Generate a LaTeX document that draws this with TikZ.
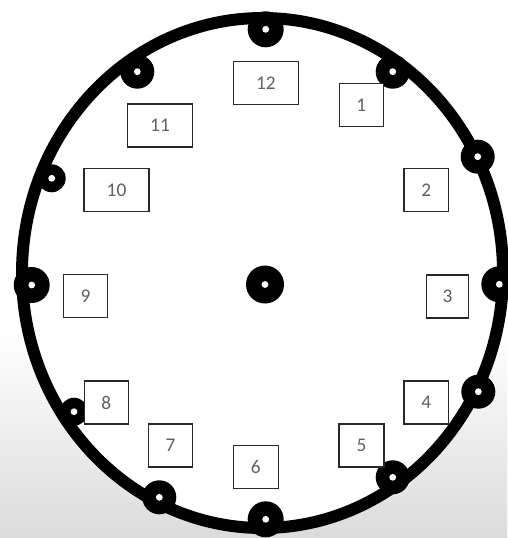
\documentclass[tikz,border=0pt]{standalone}
\usepackage{fontspec}
\setmainfont{Carlito}
\definecolor{DialGray}{RGB}{96,96,96}
\definecolor{BoxEdge}{RGB}{40,40,40}
\usepackage{tikz}

\tikzset{
  numbox/.style={draw=BoxEdge,line width=1.3pt,fill=white,text=DialGray,
    minimum height=1.29cm,inner sep=0pt,font=\fontsize{16.5}{19}\selectfont},
  rim/.style={line width=10.2pt,line cap=round},
}

\begin{document}
\begin{tikzpicture}[x=0.03cm,y=-0.03cm]
  \useasboundingbox (0,0) rectangle (507,538);
  \fill[white] (0,0) rectangle (507,538);
  \shade[top color=white,bottom color=black!14] (0,330) rectangle (507,538);
  \fill[white] (262.5,273) ellipse [x radius=240.5,y radius=255];
  \draw[rim] (262.5,273) ellipse [x radius=240.5,y radius=255];
  % knobs on the rim
  \foreach \x/\y/\r in {265.7/29.3/18,392.7/71.7/17,477.7/156.7/17,499.3/284.3/18,
      478.3/391.7/17,392.7/477.3/17,265.7/519.3/18,159.3/497.3/17,
      74/411.7/14,31.7/285/18,51.7/178.3/14,137.3/71.7/17} {
    \fill (\x,\y) circle (\r);
    \fill[white] (\x,\y) circle (3.4);
  }
  \fill (265,284.5) circle (19);
  \fill[white] (265,284.5) circle (3.4);
  % hour boxes
  \foreach \n/\x/\y/\w in {12/265.8/83.2/1.95cm,1/361.3/105.2/1.32cm,2/426.2/190/1.33cm,
      3/447.5/296.5/1.25cm,4/426.2/402.5/1.33cm,5/361.5/445.3/1.35cm,
      6/255.8/467.2/1.35cm,7/170.5/445.3/1.33cm,8/106.3/402.5/1.32cm,
      9/85.5/296/1.32cm,10/116.5/190/1.95cm,11/160/125.6/1.94cm} {
    \node[numbox,minimum width=\w] (h\n) at (\x,\y) {\n};
  }
\end{tikzpicture}
\end{document}
